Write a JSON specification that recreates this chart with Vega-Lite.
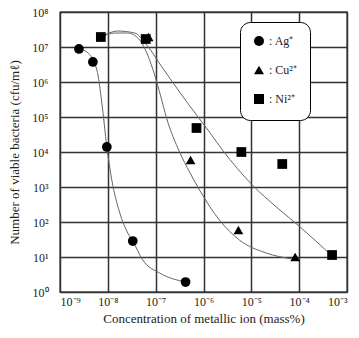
{
  "$schema": "https://vega.github.io/schema/vega-lite/v6.json",
  "width": 287,
  "height": 280,
  "autosize": "none",
  "padding": {"left": 60, "top": 12, "right": 12, "bottom": 46},
  "background": "white",
  "config": {
    "font": "Liberation Serif",
    "view": {"stroke": "black", "strokeWidth": 1.3},
    "axis": {"labelFont": "Liberation Serif", "titleFont": "Liberation Serif", "labelColor": "#222", "titleColor": "#222", "titleFontWeight": "normal", "gridColor": "#333", "gridWidth": 1.5, "gridOpacity": 1, "domain": false, "ticks": false, "labelFontSize": 12, "titleFontSize": 13}
  },
  "datasets": {
    "curves": [
      {"series": "Ag", "i": 1, "x": 2.49e-9, "y": 8.77e6},
      {"series": "Ag", "i": 2, "x": 3.65e-9, "y": 7.19e6},
      {"series": "Ag", "i": 3, "x": 5.90e-9, "y": 2.20e6},
      {"series": "Ag", "i": 4, "x": 7.50e-9, "y": 2.51e5},
      {"series": "Ag", "i": 5, "x": 9.53e-9, "y": 1.39e4},
      {"series": "Ag", "i": 6, "x": 1.21e-8, "y": 1585},
      {"series": "Ag", "i": 7, "x": 1.78e-8, "y": 181},
      {"series": "Ag", "i": 8, "x": 2.61e-8, "y": 48.5},
      {"series": "Ag", "i": 9, "x": 3.32e-8, "y": 28.6},
      {"series": "Ag", "i": 10, "x": 5.36e-8, "y": 8.2},
      {"series": "Ag", "i": 11, "x": 1.21e-7, "y": 3.49},
      {"series": "Ag", "i": 12, "x": 4.22e-7, "y": 1.93},
      {"series": "Cu", "i": 1, "x": 7.14e-9, "y": 1.93e7},
      {"series": "Cu", "i": 2, "x": 1.40e-8, "y": 2.51e7},
      {"series": "Cu", "i": 3, "x": 2.61e-8, "y": 2.51e7},
      {"series": "Cu", "i": 4, "x": 4.65e-8, "y": 1.58e7},
      {"series": "Cu", "i": 5, "x": 6.81e-8, "y": 5.90e6},
      {"series": "Cu", "i": 6, "x": 9.53e-8, "y": 1.58e6},
      {"series": "Cu", "i": 7, "x": 1.27e-7, "y": 3.98e5},
      {"series": "Cu", "i": 8, "x": 1.69e-7, "y": 9.35e4},
      {"series": "Cu", "i": 9, "x": 3.16e-7, "y": 1.0e4},
      {"series": "Cu", "i": 10, "x": 5.11e-7, "y": 2685},
      {"series": "Cu", "i": 11, "x": 8.26e-7, "y": 820},
      {"series": "Cu", "i": 12, "x": 2.15e-6, "y": 114},
      {"series": "Cu", "i": 13, "x": 5.62e-6, "y": 30.6},
      {"series": "Cu", "i": 14, "x": 2.05e-5, "y": 13.0},
      {"series": "Cu", "i": 15, "x": 7.14e-5, "y": 8.77},
      {"series": "Ni", "i": 1, "x": 7.14e-9, "y": 1.93e7},
      {"series": "Ni", "i": 2, "x": 1.61e-8, "y": 2.86e7},
      {"series": "Ni", "i": 3, "x": 3.65e-8, "y": 2.51e7},
      {"series": "Ni", "i": 4, "x": 6.49e-8, "y": 1.14e7},
      {"series": "Ni", "i": 5, "x": 1.40e-7, "y": 2.51e6},
      {"series": "Ni", "i": 6, "x": 3.16e-7, "y": 5.18e5},
      {"series": "Ni", "i": 7, "x": 7.14e-7, "y": 1.14e5},
      {"series": "Ni", "i": 8, "x": 1.33e-6, "y": 3.72e4},
      {"series": "Ni", "i": 9, "x": 2.49e-6, "y": 1.14e4},
      {"series": "Ni", "i": 10, "x": 1.05e-5, "y": 1140},
      {"series": "Ni", "i": 11, "x": 3.32e-5, "y": 269},
      {"series": "Ni", "i": 12, "x": 1.05e-4, "y": 71.9},
      {"series": "Ni", "i": 13, "x": 4.87e-4, "y": 10.7}
    ],
    "points": [
      {"ion": "Ni²⁺", "x": 7.14e-9, "y": 1.93e7},
      {"ion": "Ni²⁺", "x": 6.19e-8, "y": 1.69e7},
      {"ion": "Ni²⁺", "x": 7.14e-7, "y": 4.85e4},
      {"ion": "Ni²⁺", "x": 6.19e-6, "y": 1.0e4},
      {"ion": "Ni²⁺", "x": 4.43e-5, "y": 4.54e3},
      {"ion": "Ni²⁺", "x": 4.87e-4, "y": 11.4},
      {"ion": "Ag⁺", "x": 2.49e-9, "y": 8.77e6},
      {"ion": "Ag⁺", "x": 4.87e-9, "y": 3.73e6},
      {"ion": "Ag⁺", "x": 9.53e-9, "y": 1.39e4},
      {"ion": "Ag⁺", "x": 3.32e-8, "y": 28.6},
      {"ion": "Ag⁺", "x": 4.22e-7, "y": 1.93},
      {"ion": "Cu²⁺", "x": 7.14e-8, "y": 1.93e7},
      {"ion": "Cu²⁺", "x": 5.36e-7, "y": 5.9e3},
      {"ion": "Cu²⁺", "x": 5.36e-6, "y": 59.1},
      {"ion": "Cu²⁺", "x": 8.25e-5, "y": 10}
    ]
  },
  "layer": [
    {
      "data": {"name": "curves"},
      "mark": {"type": "line", "interpolate": "monotone", "color": "#666", "strokeWidth": 1},
      "encoding": {
        "x": {"field": "x", "type": "quantitative", "scale": {"type": "log", "domain": [1e-9, 1e-3], "nice": false},
          "axis": {"title": "Concentration of metallic ion (mass%)", "values": [1e-9, 1e-8, 1e-7, 1e-6, 1e-5, 1e-4, 1e-3], "labelPadding": 4, "titlePadding": 5,
            "labelExpr": "'10' + '⁻' + ['', '', '', '³', '⁴', '⁵', '⁶', '⁷', '⁸', '⁹'][round(-log(datum.value) / LN10)]"}},
        "y": {"field": "y", "type": "quantitative", "scale": {"type": "log", "domain": [1, 1e8], "nice": false},
          "axis": {"title": "Number of viable bacteria (cfu/mℓ)", "values": [1, 10, 100, 1000, 10000, 100000, 1000000, 10000000, 100000000], "labelPadding": 12, "titlePadding": 10,
            "labelExpr": "'10' + ['⁰', '¹', '²', '³', '⁴', '⁵', '⁶', '⁷', '⁸'][round(log(datum.value) / LN10)]"}},
        "detail": {"field": "series"},
        "order": {"field": "i", "type": "quantitative"}
      }
    },
    {
      "data": {"name": "points"},
      "mark": {"type": "point", "filled": true, "color": "black", "opacity": 1, "size": 95},
      "encoding": {
        "x": {"field": "x", "type": "quantitative"},
        "y": {"field": "y", "type": "quantitative"},
        "shape": {"field": "ion", "type": "nominal",
          "scale": {"domain": ["Ag⁺", "Cu²⁺", "Ni²⁺"], "range": ["circle", "triangle-up", "square"]},
          "legend": {"title": null, "orient": "none", "legendX": 180, "legendY": 10, "strokeColor": "black", "fillColor": "white", "cornerRadius": 10, "padding": 13, "rowPadding": 13, "symbolSize": 100, "symbolFillColor": "black", "symbolStrokeColor": "black", "labelFontSize": 12, "labelFont": "Liberation Serif", "labelColor": "#222", "labelOffset": 4,
            "labelExpr": "': ' + datum.label + '\u00a0\u00a0'"}}
      }
    }
  ]
}
